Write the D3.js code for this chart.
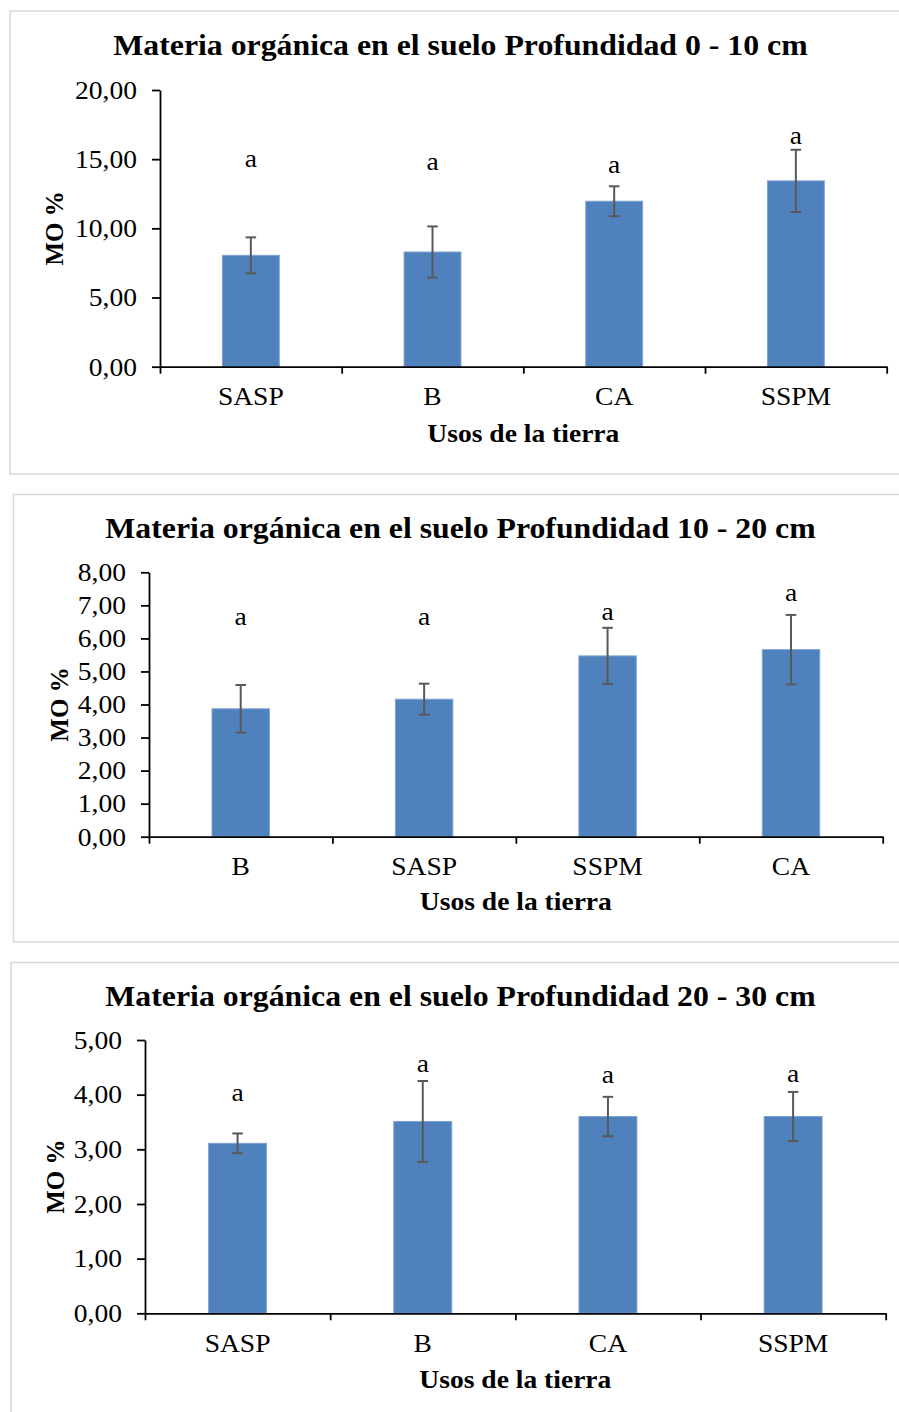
<!DOCTYPE html>
<html>
<head>
<meta charset="utf-8">
<script src="https://cdn.jsdelivr.net/npm/d3@7"></script>
<style>
  html, body { margin: 0; padding: 0; background: #fff; }
  svg { display: block; }
  text { font-family: "Liberation Serif", "Times New Roman", serif; fill: #000; }
</style>
</head>
<body>
<svg id="chart" width="899" height="1412"></svg>
<script>
// ---- Data: soil organic matter (MO %) by land use, three depths ----
const titles = [
  "Materia orgánica en el suelo Profundidad 0 - 10 cm",
  "Materia orgánica en el suelo Profundidad 10 - 20 cm",
  "Materia orgánica en el suelo Profundidad 20 - 30 cm"
];
const xAxisTitle = "Usos de la tierra";
const yAxisTitle = "MO %";

// 0 - 10 cm
const cats0_10 = ["SASP", "B", "CA", "SSPM"];
const mean0_10 = [8.05, 8.29, 11.96, 13.43];
const err0_10 = [1.30, 1.85, 1.08, 2.25];
const letters0_10 = ["a", "a", "a", "a"];
const letterAt0_10 = [14.44, 14.22, 13.97, 16.10];
const ticks0_10 = [0, 5, 10, 15, 20];

// 10 - 20 cm
const cats10_20 = ["B", "SASP", "SSPM", "CA"];
const mean10_20 = [3.87, 4.16, 5.47, 5.66];
const err10_20 = [0.72, 0.47, 0.85, 1.05];
const letters10_20 = ["a", "a", "a", "a"];
const letterAt10_20 = [6.41, 6.41, 6.56, 7.14];
const ticks10_20 = [0, 1, 2, 3, 4, 5, 6, 7, 8];

// 20 - 30 cm
const cats20_30 = ["SASP", "B", "CA", "SSPM"];
const mean20_30 = [3.11, 3.51, 3.60, 3.60];
const err20_30 = [0.18, 0.74, 0.36, 0.45];
const letters20_30 = ["a", "a", "a", "a"];
const letterAt20_30 = [3.89, 4.42, 4.21, 4.24];
const ticks20_30 = [0, 1, 2, 3, 4, 5];

// ---- Panel layout ----
const panels = [
  { title: titles[0], cats: cats0_10, mean: mean0_10, err: err0_10, letters: letters0_10, letterAt: letterAt0_10, ticks: ticks0_10,
    frame: { x: 10, y: 11, w: 900, h: 463 },
    plot: { left: 160, right: 886.7, top: 90, bottom: 366.7 },
    titleY: 55, yTitleX: 63, xTitleDy: 75 },
  { title: titles[1], cats: cats10_20, mean: mean10_20, err: err10_20, letters: letters10_20, letterAt: letterAt10_20, ticks: ticks10_20,
    frame: { x: 13.5, y: 494.5, w: 900, h: 447.5 },
    plot: { left: 149, right: 882.7, top: 572.3, bottom: 836.7 },
    titleY: 538.3, yTitleX: 68, xTitleDy: 73.5 },
  { title: titles[2], cats: cats20_30, mean: mean20_30, err: err20_30, letters: letters20_30, letterAt: letterAt20_30, ticks: ticks20_30,
    frame: { x: 11, y: 962.5, w: 900, h: 470 },
    plot: { left: 145, right: 885.7, top: 1040, bottom: 1313.3 },
    titleY: 1006, yTitleX: 64, xTitleDy: 75 }
];

const svg = d3.select("#chart");
const barFill = "#4f81bd";
const barEdge = "#7ea3d2";
const errColor = "#595959";
const widen = 1.06; // text is set slightly wide
const fmt = d => d.toFixed(2).replace(".", ",");

// place a text at (x, y) with horizontal widening
function label(sel, x, y, rot) {
  return sel.attr("transform", `translate(${x},${y})${rot ? ` rotate(${rot})` : ""} scale(${widen},1)`);
}

panels.forEach(p => {
  const g = svg.append("g");
  const { left, right, top, bottom } = p.plot;

  // chart area frame
  g.append("rect")
    .attr("x", p.frame.x).attr("y", p.frame.y)
    .attr("width", p.frame.w).attr("height", p.frame.h)
    .attr("fill", "none").attr("stroke", "#d9d9d9").attr("stroke-width", 1.5);

  // title
  label(g.append("text"), 460.5, p.titleY)
    .attr("text-anchor", "middle")
    .attr("font-size", 30).attr("font-weight", "bold")
    .text(p.title);

  const yMax = d3.max(p.ticks);
  const y = d3.scaleLinear().domain([0, yMax]).range([bottom, top]);
  const x = d3.scaleBand().domain(p.cats).range([left, right])
    .paddingInner(0.687).paddingOuter(0.3435);
  const slot = d3.scaleLinear().domain([0, p.cats.length]).range([left, right]);
  const cx = d => x(d) + x.bandwidth() / 2;

  // bars
  g.selectAll("rect.bar").data(p.cats).join("rect")
    .attr("class", "bar")
    .attr("x", d => x(d))
    .attr("width", x.bandwidth())
    .attr("y", (d, i) => y(p.mean[i]))
    .attr("height", (d, i) => bottom - y(p.mean[i]))
    .attr("fill", barFill)
    .attr("stroke", barEdge).attr("stroke-width", 1);

  // error bars
  const cap = 5.3;
  const eb = g.selectAll("g.err").data(p.cats).join("g").attr("class", "err")
    .attr("stroke", errColor).attr("stroke-width", 2);
  eb.append("line")
    .attr("x1", cx).attr("x2", cx)
    .attr("y1", (d, i) => y(p.mean[i] + p.err[i]))
    .attr("y2", (d, i) => y(p.mean[i] - p.err[i]));
  eb.append("line")
    .attr("x1", d => cx(d) - cap).attr("x2", d => cx(d) + cap)
    .attr("y1", (d, i) => y(p.mean[i] + p.err[i])).attr("y2", (d, i) => y(p.mean[i] + p.err[i]));
  eb.append("line")
    .attr("x1", d => cx(d) - cap).attr("x2", d => cx(d) + cap)
    .attr("y1", (d, i) => y(p.mean[i] - p.err[i])).attr("y2", (d, i) => y(p.mean[i] - p.err[i]));

  // significance letters
  g.selectAll("text.letter").data(p.cats).join("text")
    .attr("class", "letter")
    .attr("transform", (d, i) => `translate(${cx(d)},${y(p.letterAt[i])}) scale(${widen},1)`)
    .attr("text-anchor", "middle")
    .attr("font-size", 26)
    .text((d, i) => p.letters[i]);

  // y axis
  const yAxis = g.append("g")
    .attr("transform", `translate(${left},0)`)
    .call(d3.axisLeft(y).tickValues(p.ticks).tickSize(8).tickSizeOuter(0).tickPadding(15).tickFormat(fmt));
  yAxis.selectAll(".tick text")
    .attr("font-size", 26).attr("font-family", "Liberation Serif, serif").attr("fill", "#000")
    .attr("x", null)
    .attr("transform", `translate(-23,0) scale(${widen},1)`);

  // x axis: baseline with ticks at category boundaries
  const xAxis = g.append("g")
    .attr("transform", `translate(0,${bottom})`)
    .call(d3.axisBottom(slot).ticks(p.cats.length).tickSize(7).tickSizeOuter(0).tickFormat(""));

  [yAxis, xAxis].forEach(a => {
    a.selectAll("path.domain").attr("stroke", "#000").attr("stroke-width", 1.8);
    a.selectAll(".tick line").attr("stroke", "#000").attr("stroke-width", 1.8);
  });

  // category labels
  g.selectAll("text.cat").data(p.cats).join("text")
    .attr("class", "cat")
    .attr("transform", d => `translate(${cx(d)},${bottom + 38.3}) scale(${widen},1)`)
    .attr("text-anchor", "middle")
    .attr("font-size", 26)
    .text(d => d);

  // axis titles
  label(g.append("text"), (left + right) / 2, bottom + p.xTitleDy)
    .attr("text-anchor", "middle")
    .attr("font-size", 26).attr("font-weight", "bold")
    .text(xAxisTitle);

  g.append("text")
    .attr("transform", `translate(${p.yTitleX},${(top + bottom) / 2}) rotate(-90)`)
    .attr("text-anchor", "middle")
    .attr("font-size", 25).attr("font-weight", "bold")
    .text(yAxisTitle);
});
</script>
</body>
</html>
